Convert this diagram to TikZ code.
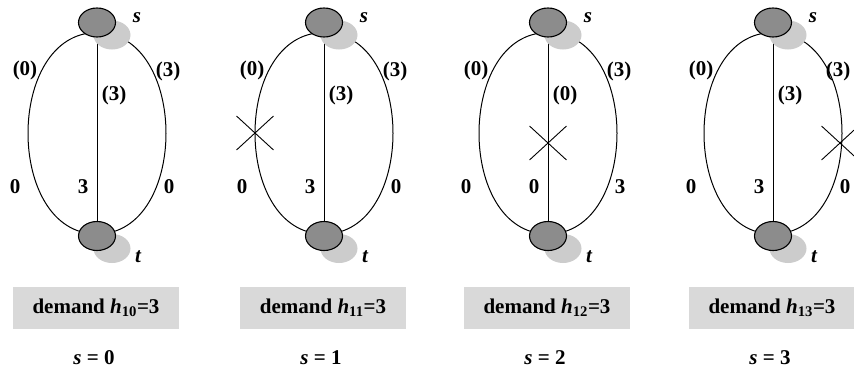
\documentclass[tikz,border=0pt]{standalone}
\usepackage{fontspec}
\setmainfont{Liberation Serif}
\usetikzlibrary{shapes.geometric,shapes.misc,shadows,backgrounds}
\definecolor{nodegray}{HTML}{8C8C8C}
\definecolor{shadowgray}{HTML}{CCCCCC}
\definecolor{boxgray}{HTML}{D9D9D9}

\begin{document}
\begin{tikzpicture}[
  x=1pt,y=-1pt,
  every node/.style={font=\fontsize{21}{24}\selectfont\bfseries},
  terminal/.style={ellipse,draw,line width=1.1pt,fill=nodegray,minimum width=37pt,
                   minimum height=29pt,inner sep=0pt,
                   drop shadow={shadow xshift=15pt,shadow yshift=-12.5pt,
                                fill=shadowgray,opacity=1}},
  link/.style={draw,line width=1pt},
  flow/.style={inner sep=0pt},
  demandbox/.style={fill=boxgray,minimum width=166pt,minimum height=42pt,inner sep=0pt},
  failed/.style={cross out,draw,line width=0.9pt,minimum width=36pt,minimum height=33pt,
                 inner sep=0pt}
]
  \useasboundingbox (0,0) rectangle (854,373);
  % one panel per failure state s
  \foreach \n/\c/\la/\ma/\ra/\rx/\lb/\mb/\rb in
    {0/97/0/3/3/71/0/3/0, 1/324/0/3/3/71/0/3/0, 2/548/0/0/3/71/0/0/3,
     3/773/0/3/3/65/0/3/0}{
    \node[terminal] (s\n) at (\c,22.5) {};
    \node[terminal] (t\n) at (\c,236) {};
    \node[flow] (sname\n) at (\c+40,18) {\itshape s};
    \node[flow] (tname\n) at (\c+41,257) {\itshape t};
    \begin{scope}[on background layer]
      \path[link] ([yshift=5pt]s\n.south) .. controls +(-92,0) and +(-92,0) .. ([yshift=2pt]t\n.center);
      \path[link] ([yshift=5pt]s\n.south) .. controls +(92,0) and +(92,0) .. ([yshift=2pt]t\n.center);
      \path[link] (s\n) -- (t\n);
    \end{scope}
    \node[flow] (lcap\n) at (\c-72,70) {(\la)};
    \node[flow] (mcap\n) at (\c+17,95) {(\ma)};
    \node[flow] (rcap\n) at (\c+\rx,71) {(\ra)};
    \node[flow] (lflow\n) at (\c-82,187) {\lb};
    \node[flow] (mflow\n) at (\c-14,187) {\mb};
    \node[flow] (rflow\n) at (\c+72,187) {\rb};
    \node[demandbox] (dem\n) at (\c-1,308) {demand \textit{h}\textsubscript{1\n}=3};
    \node[flow] (state\n) at (\c-3,358) {{\itshape s} = \n};
  }
  % failed links
  \node[failed] (cut1) at (255,133) {};
  \node[failed] (cut2) at (548,143) {};
  \node[failed] (cut3) at (840,143) {};
\end{tikzpicture}
\end{document}
